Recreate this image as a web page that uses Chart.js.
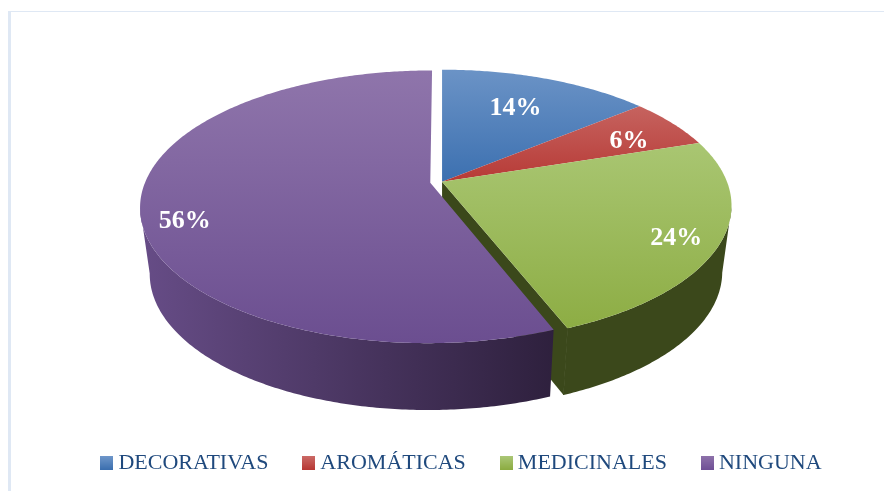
<!DOCTYPE html>
<html>
<head>
<meta charset="utf-8">
<style>
html,body{margin:0;padding:0;background:#fff;overflow:hidden}
#wrap{position:relative;width:884px;height:491px}
#frame{position:absolute;left:8px;top:11px;right:0;bottom:0;border-left:3px solid #dfe8f4;border-top:1px solid #dfe8f4}
canvas{position:absolute;left:0;top:0}
</style>
<script src="https://cdn.jsdelivr.net/npm/chart.js@4"></script>
</head>
<body>
<div id="wrap"><div id="frame"></div><canvas id="c" width="884" height="491"></canvas></div>
<script>
const categories = ['DECORATIVAS', 'AROMÁTICAS', 'MEDICINALES', 'NINGUNA'];
const values = [14, 6, 24, 56];
const valueLabels = ['14%', '6%', '24%', '56%'];

const topColors = [
  ['#6b93c6', '#3c70b0'],
  ['#c6635f', '#b73a36'],
  ['#a9c672', '#8dad44'],
  ['#8f75ab', '#6b4e90']
];
const legendColors = [
  ['#6f97ca', '#3a6eae'],
  ['#cb6a66', '#b73733'],
  ['#abc777', '#8bab40'],
  ['#8e72aa', '#6f4f95']
];
const wallColors = [
  ['#2d4a70', '#2d4a70'],
  ['#742422', '#742422'],
  ['#3b481b', '#3b481b'],
  ['#664c86', '#2e203d']
];
const explode = [0, 0, 0, 0.042];
const labelFraction = [0.67, 0.80, 0.85, 0.85];
const labelNudgeY = [-1, 7, 6, 17];

// perspective of the disc, relative to the radius the library gives the pie
const RX = 1.383, RY = 0.6395, RISE = 0.1182, SHIFT = 0.1065, PERSP = 0.1765;
const BOTTOM_SCALE = 0.968, DEPTH = 0.32, DEPTH_SLOPE = 0.006;

function projector(arc) {
  const R = arc.outerRadius, cx = arc.x - SHIFT * R, cy = arc.y - RISE * R;
  return function (u, v, low) {
    const w = 1 - PERSP * v;
    let X = cx + RX * R * u / w, Y = cy + RY * R * v / w;
    if (low) {
      Y = Y + DEPTH * R + (Y - cy) * DEPTH_SLOPE;
      X = cx + (X - cx) * BOTTOM_SCALE;
    }
    return [X, Y];
  };
}

function arcPoints(arc, i, low, frontOnly) {
  const P = projector(arc);
  const mid = (arc.startAngle + arc.endAngle) / 2;
  const du = explode[i] * Math.cos(mid), dv = explode[i] * Math.sin(mid);
  const n = Math.max(4, Math.ceil((arc.endAngle - arc.startAngle) * 90));
  const pts = [];
  for (let k = 0; k <= n; k++) {
    const a = arc.startAngle + (arc.endAngle - arc.startAngle) * k / n;
    if (frontOnly && Math.sin(a) < PERSP) continue;
    pts.push(P(Math.cos(a) + du, Math.sin(a) + dv, low));
  }
  return { pts, apex: P(du, dv, low) };
}

function drawWall(ctx, arc, i) {
  const top = arcPoints(arc, i, false, true), low = arcPoints(arc, i, true, true);
  if (top.pts.length < 2) return;
  const g = ctx.createLinearGradient(145, 0, 555, 0);
  g.addColorStop(0, wallColors[i][0]);
  g.addColorStop(1, wallColors[i][1]);
  ctx.fillStyle = g;
  ctx.strokeStyle = g;
  ctx.lineWidth = 1;
  // radial face at the end of the slice, seen only where the slice is not pulled out
  if (explode[i] === 0) {
    const fullTop = arcPoints(arc, i, false, false), fullLow = arcPoints(arc, i, true, false);
    const e = fullTop.pts.length - 1;
    ctx.beginPath();
    [fullTop.apex, fullTop.pts[e], fullLow.pts[e], fullLow.apex].forEach((p, k) => k ? ctx.lineTo(p[0], p[1]) : ctx.moveTo(p[0], p[1]));
    ctx.closePath();
    ctx.fill();
    ctx.beginPath();
    ctx.moveTo(fullTop.pts[e][0], fullTop.pts[e][1]);
    ctx.lineTo(fullLow.pts[e][0], fullLow.pts[e][1]);
    ctx.stroke();
  }
  // outer face of the slice
  ctx.beginPath();
  top.pts.forEach((p, k) => k ? ctx.lineTo(p[0], p[1]) : ctx.moveTo(p[0], p[1]));
  low.pts.slice().reverse().forEach(p => ctx.lineTo(p[0], p[1]));
  ctx.closePath();
  ctx.fill();
}

function drawTop(ctx, arc, i) {
  const t = arcPoints(arc, i, false, false);
  const ys = t.pts.map(p => p[1]).concat([t.apex[1]]);
  const g = ctx.createLinearGradient(0, Math.min(...ys), 0, Math.max(...ys));
  g.addColorStop(0, topColors[i][0]);
  g.addColorStop(1, topColors[i][1]);
  ctx.fillStyle = g;
  ctx.beginPath();
  ctx.moveTo(t.apex[0], t.apex[1]);
  t.pts.forEach(p => ctx.lineTo(p[0], p[1]));
  ctx.closePath();
  ctx.fill();
}

const pie3d = {
  id: 'pie3d',
  beforeDatasetDraw(chart) {
    const ctx = chart.ctx, arcs = chart.getDatasetMeta(0).data;
    ctx.save();
    [0, 1, 2].forEach(i => drawWall(ctx, arcs[i], i));
    [0, 1, 2].forEach(i => drawTop(ctx, arcs[i], i));
    drawWall(ctx, arcs[3], 3);
    drawTop(ctx, arcs[3], 3);
    ctx.font = 'bold 26px "Liberation Serif"';
    ctx.fillStyle = '#ffffff';
    ctx.textAlign = 'center';
    ctx.textBaseline = 'middle';
    arcs.forEach((arc, i) => {
      const P = projector(arc);
      const mid = (arc.startAngle + arc.endAngle) / 2;
      const f = labelFraction[i];
      const p = P(f * Math.cos(mid) + explode[i] * Math.cos(mid), f * Math.sin(mid) + explode[i] * Math.sin(mid), false);
      ctx.fillText(valueLabels[i], p[0], p[1] + labelNudgeY[i]);
    });
    ctx.restore();
    return false;
  }
};

function swatch(colors) {
  const c = document.createElement('canvas');
  c.width = 13; c.height = 14;
  const x = c.getContext('2d');
  const g = x.createLinearGradient(0, 0, 0, 14);
  g.addColorStop(0, colors[0]); g.addColorStop(1, colors[1]);
  x.fillStyle = g; x.fillRect(0, 0, 13, 14);
  return c;
}

new Chart(document.getElementById('c'), {
  type: 'pie',
  data: {
    labels: categories,
    datasets: [{ data: values, backgroundColor: topColors.map(c => c[1]), borderWidth: 0 }]
  },
  plugins: [pie3d],
  options: {
    responsive: false,
    animation: false,
    layout: { padding: { top: 0, right: 0, bottom: 7, left: 44 } },
    plugins: {
      tooltip: { enabled: false },
      legend: {
        position: 'bottom',
        labels: {
          usePointStyle: true,
          pointStyleWidth: 1,
          padding: 40,
          color: '#1f497d',
          font: { family: '"Liberation Serif"', size: 22 },
          generateLabels: () => categories.map((t, i) => ({
            text: t, pointStyle: swatch(legendColors[i]), fontColor: '#1f497d',
            hidden: false, index: i, lineWidth: 0, strokeStyle: 'transparent', fillStyle: legendColors[i][0]
          }))
        }
      }
    }
  }
});
</script>
</body>
</html>
